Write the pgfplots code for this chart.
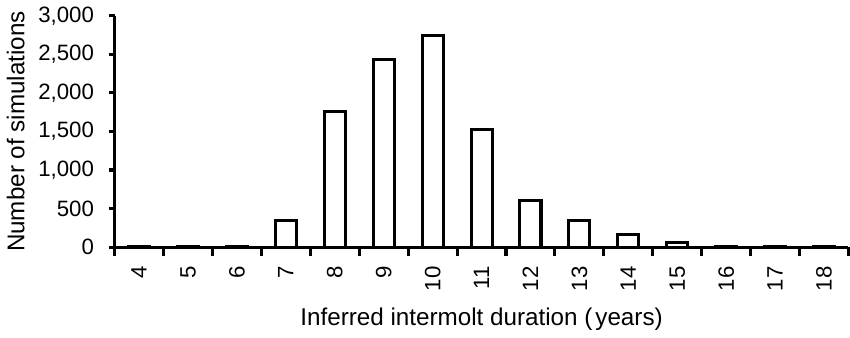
\documentclass[border=0pt]{standalone}
\usepackage{fontspec}
\setmainfont{Liberation Sans}
\usepackage{pgfplots}
\pgfplotsset{compat=1.18}
\begin{document}
\begin{tikzpicture}
\begin{axis}[
  scale only axis, width=363.5pt, height=114.5pt,
  xmin=3.5, xmax=18.5, ymin=0, ymax=3000,
  axis lines=left,
  axis line style={line width=1.5pt, -},
  tick align=outside,
  ytick={0,500,...,3000},
  xtick={4,...,18},
  minor xtick={3.5,4.5,...,18.5},
  major tick length=3pt,
  minor tick length=4.5pt,
  major x tick style={draw=none},
  minor x tick style={line width=1.5pt, black},
  y tick style={line width=1.5pt, black},
  tick label style={font=\fontsize{11}{13}\selectfont},
  label style={font=\fontsize{12}{14}\selectfont},
  x tick label style={yshift=-3pt, rotate=90, anchor=east},
  y tick label style={xshift=-3.7pt},
  /pgf/number format/assume math mode=true,
  /pgf/number format/1000 sep={,},
  scaled y ticks=false,
  xlabel={Inferred intermolt duration (\kern0.12em years)},
  ylabel={Number of simulations},
  every axis x label/.append style={yshift=-1.5pt},
]
\addplot[ybar, bar width=0.43, fill=white, draw=black, line width=1.5pt]
  coordinates {(4,3) (5,3) (6,12) (7,350) (8,1760) (9,2440) (10,2740) (11,1520) (12,600) (13,345) (14,160) (15,60) (16,10) (17,6) (18,3)};
\end{axis}
\end{tikzpicture}
\end{document}
